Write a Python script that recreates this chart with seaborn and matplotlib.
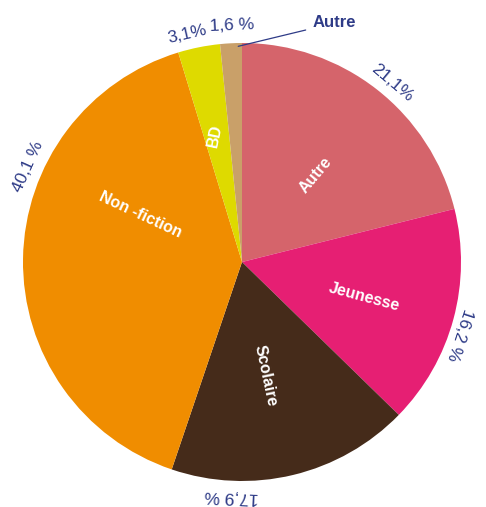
import numpy as np
import matplotlib
matplotlib.use('Agg')
import matplotlib.pyplot as plt
import seaborn as sns

### Data

categories = ['Autre', 'Jeunesse', 'Scolaire', 'Non -fiction', 'BD', 'Autre']
shares = [21.1, 16.2, 17.9, 40.1, 3.1, 1.6]
pct_labels = ['21,1%', '16,2 %', '17,9 %', '40,1 %', '3,1%', '1,6 %']
colors = ['#D5646B', '#E61F73', '#452B1A', '#F08D00', '#DEDA00', '#C9A069']

### Layout of the labels (angle in degrees, radius as fraction of pie)

pct_angle = [50, -18.5, -92.5, 156, 103.5, 92.4]
pct_radius = [1.07, 1.05, 1.07, 1.07, 1.07, 1.08]
pct_rot = [-40, -108, 177.5, 66, 13, 2.5]

inner_angle = [50, -16, -78.5, 155, 102, None]
inner_radius = [0.52, 0.58, 0.53, 0.51, 0.59, None]
inner_rot = [50, -15, -78, -25, 78, None]

blue = '#2E3B87'

sns.set_style('white')
plt.rcParams['font.family'] = ['Liberation Sans', 'DejaVu Sans']

fig = plt.figure(figsize=(4.86, 5.07), dpi=100)
ax = fig.add_axes([0, 0, 1, 1])

R = 219.0
cx, cy = 242.0, 262.0

wedges, _ = ax.pie(shares, colors=sns.color_palette(colors), startangle=90,
                   counterclock=False, radius=1, center=(0, 0),
                   wedgeprops=dict(linewidth=0), frame=False)
ax.set_xlim(-cx / R, (486 - cx) / R)
ax.set_ylim(-(507 - cy) / R, cy / R)
ax.set_aspect('auto')
ax.set_axis_off()

# percentages around the pie
for lab, a, r, rot in zip(pct_labels, pct_angle, pct_radius, pct_rot):
    t = np.deg2rad(a)
    ax.text(r * np.cos(t), r * np.sin(t), lab,
            rotation=rot, rotation_mode='anchor', ha='center', va='center',
            color=blue, fontsize=12.5)

# names inside the slices
for lab, a, r, rot in zip(categories, inner_angle, inner_radius, inner_rot):
    if a is None:
        continue
    t = np.deg2rad(a)
    ax.text(r * np.cos(t), r * np.sin(t), lab, rotation=rot,
            rotation_mode='anchor', ha='center', va='center',
            color='white', fontsize=11.5, fontweight='bold')

# the small slice gets its name outside
ax.annotate(categories[5], xy=(np.cos(np.deg2rad(91)) * 0.985, np.sin(np.deg2rad(91)) * 0.985),
            xytext=((313 - cx) / R, (cy - 23) / R), ha='left', va='center',
            color=blue, fontsize=12, fontweight='bold',
            arrowprops=dict(arrowstyle='-', color=blue, lw=0.9, shrinkA=3, shrinkB=0))

plt.savefig('out.png', dpi=100)
